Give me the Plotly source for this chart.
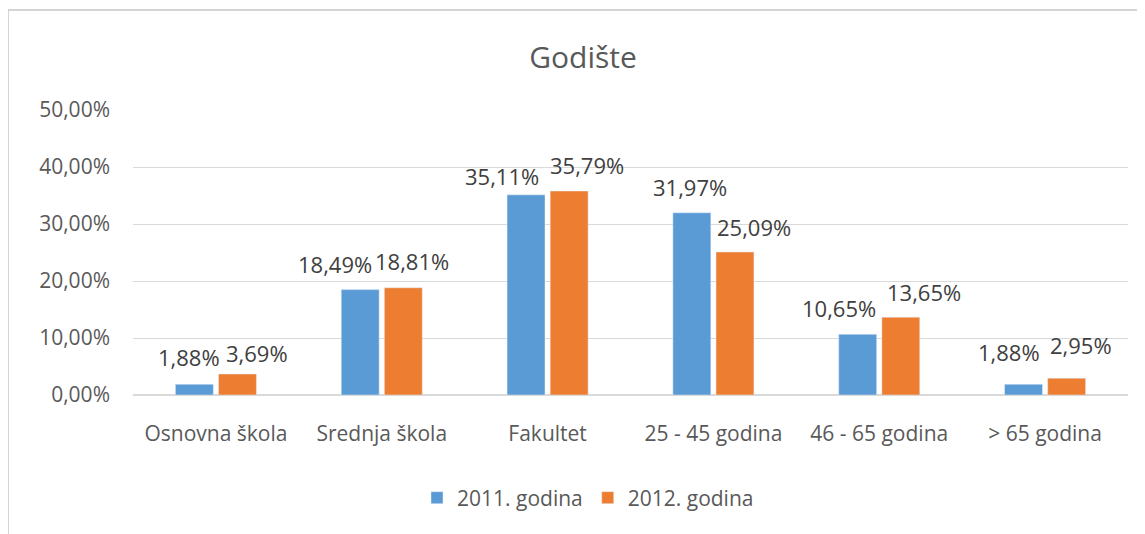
import plotly.graph_objects as go

# data
categories = ["Osnovna škola", "Srednja škola", "Fakultet", "25 - 45 godina", "46 - 65 godina", "> 65 godina"]
vals_2011 = [1.88, 18.49, 35.11, 31.97, 10.65, 1.88]
vals_2012 = [3.69, 18.81, 35.79, 25.09, 13.65, 2.95]
series_names = ["2011. godina", "2012. godina"]
tick_vals = [0, 10, 20, 30, 40, 50]

# label placement (pixel nudges, as in the original chart)
dx_2011 = [-27, -47, -45.5, -23.5, -40.5, -36.5]
dx_2012 = [41.5, 30, 39.5, 40.5, 44.5, 35.5]
dy_2011 = [27, 26, 19, 26, 26, 32]
dy_2012 = [21, 27, 26, 25, 25, 33]

BLUE = "#5B9BD5"
ORANGE = "#ED7D31"
FONT = "Open Sans"

# page body has an 8px margin, so the figure is 8px smaller and positions are shifted
W, H = 1137, 526


def pct(v):
    return ("%.2f%%" % v).replace(".", ",")


fig = go.Figure()
fig.add_trace(go.Bar(x=categories, y=vals_2011, name=series_names[0], marker_color=BLUE))
fig.add_trace(go.Bar(x=categories, y=vals_2012, name=series_names[1], marker_color=ORANGE))

# data labels above each bar
for vals, dxs, dys in [(vals_2011, dx_2011, dy_2011), (vals_2012, dx_2012, dy_2012)]:
    for cat, v, dx, dy in zip(categories, vals, dxs, dys):
        fig.add_annotation(x=cat, y=v, text=pct(v), showarrow=False, xshift=dx, yshift=dy,
                           yanchor="middle", font=dict(family=FONT, size=22, color="#404040"))

# outer chart border
fig.add_shape(type="rect", xref="paper", yref="paper", x0=-0.1256, y0=-0.6, x1=1.1, y1=1.3509,
              line=dict(color="#D4D4D4", width=2), layer="below")

fig.update_layout(
    width=W, height=H,
    margin=dict(l=125, r=17, t=102, b=139),
    paper_bgcolor="white", plot_bgcolor="white",
    barmode="group", bargap=0.48, bargroupgap=0.12,
    title=dict(text="Godište", x=575 / W, xanchor="center", y=1 - 49 / H, yanchor="middle",
               font=dict(family=FONT, size=30, color="#595959")),
    legend=dict(orientation="h", x=580 / W, xanchor="center", y=1 - 490 / H, yanchor="middle",
                xref="container", yref="container",
                font=dict(family=FONT, size=21, color="#595959"), itemwidth=30, traceorder="normal"),
    font=dict(family=FONT, color="#595959"),
)
fig.update_yaxes(range=[0, 50], tickvals=tick_vals, ticktext=[pct(t) for t in tick_vals],
                 showgrid=True, gridcolor="#D9D9D9", gridwidth=1, zeroline=True, zerolinecolor="#D9D9D9",
                 showline=False, ticks="", ticklabelstandoff=22,
                 tickfont=dict(family=FONT, size=21, color="#595959"))
fig.update_xaxes(showline=False, ticks="", ticklabelstandoff=24,
                 tickfont=dict(family=FONT, size=21, color="#595959"))

fig.write_html("out.html")
